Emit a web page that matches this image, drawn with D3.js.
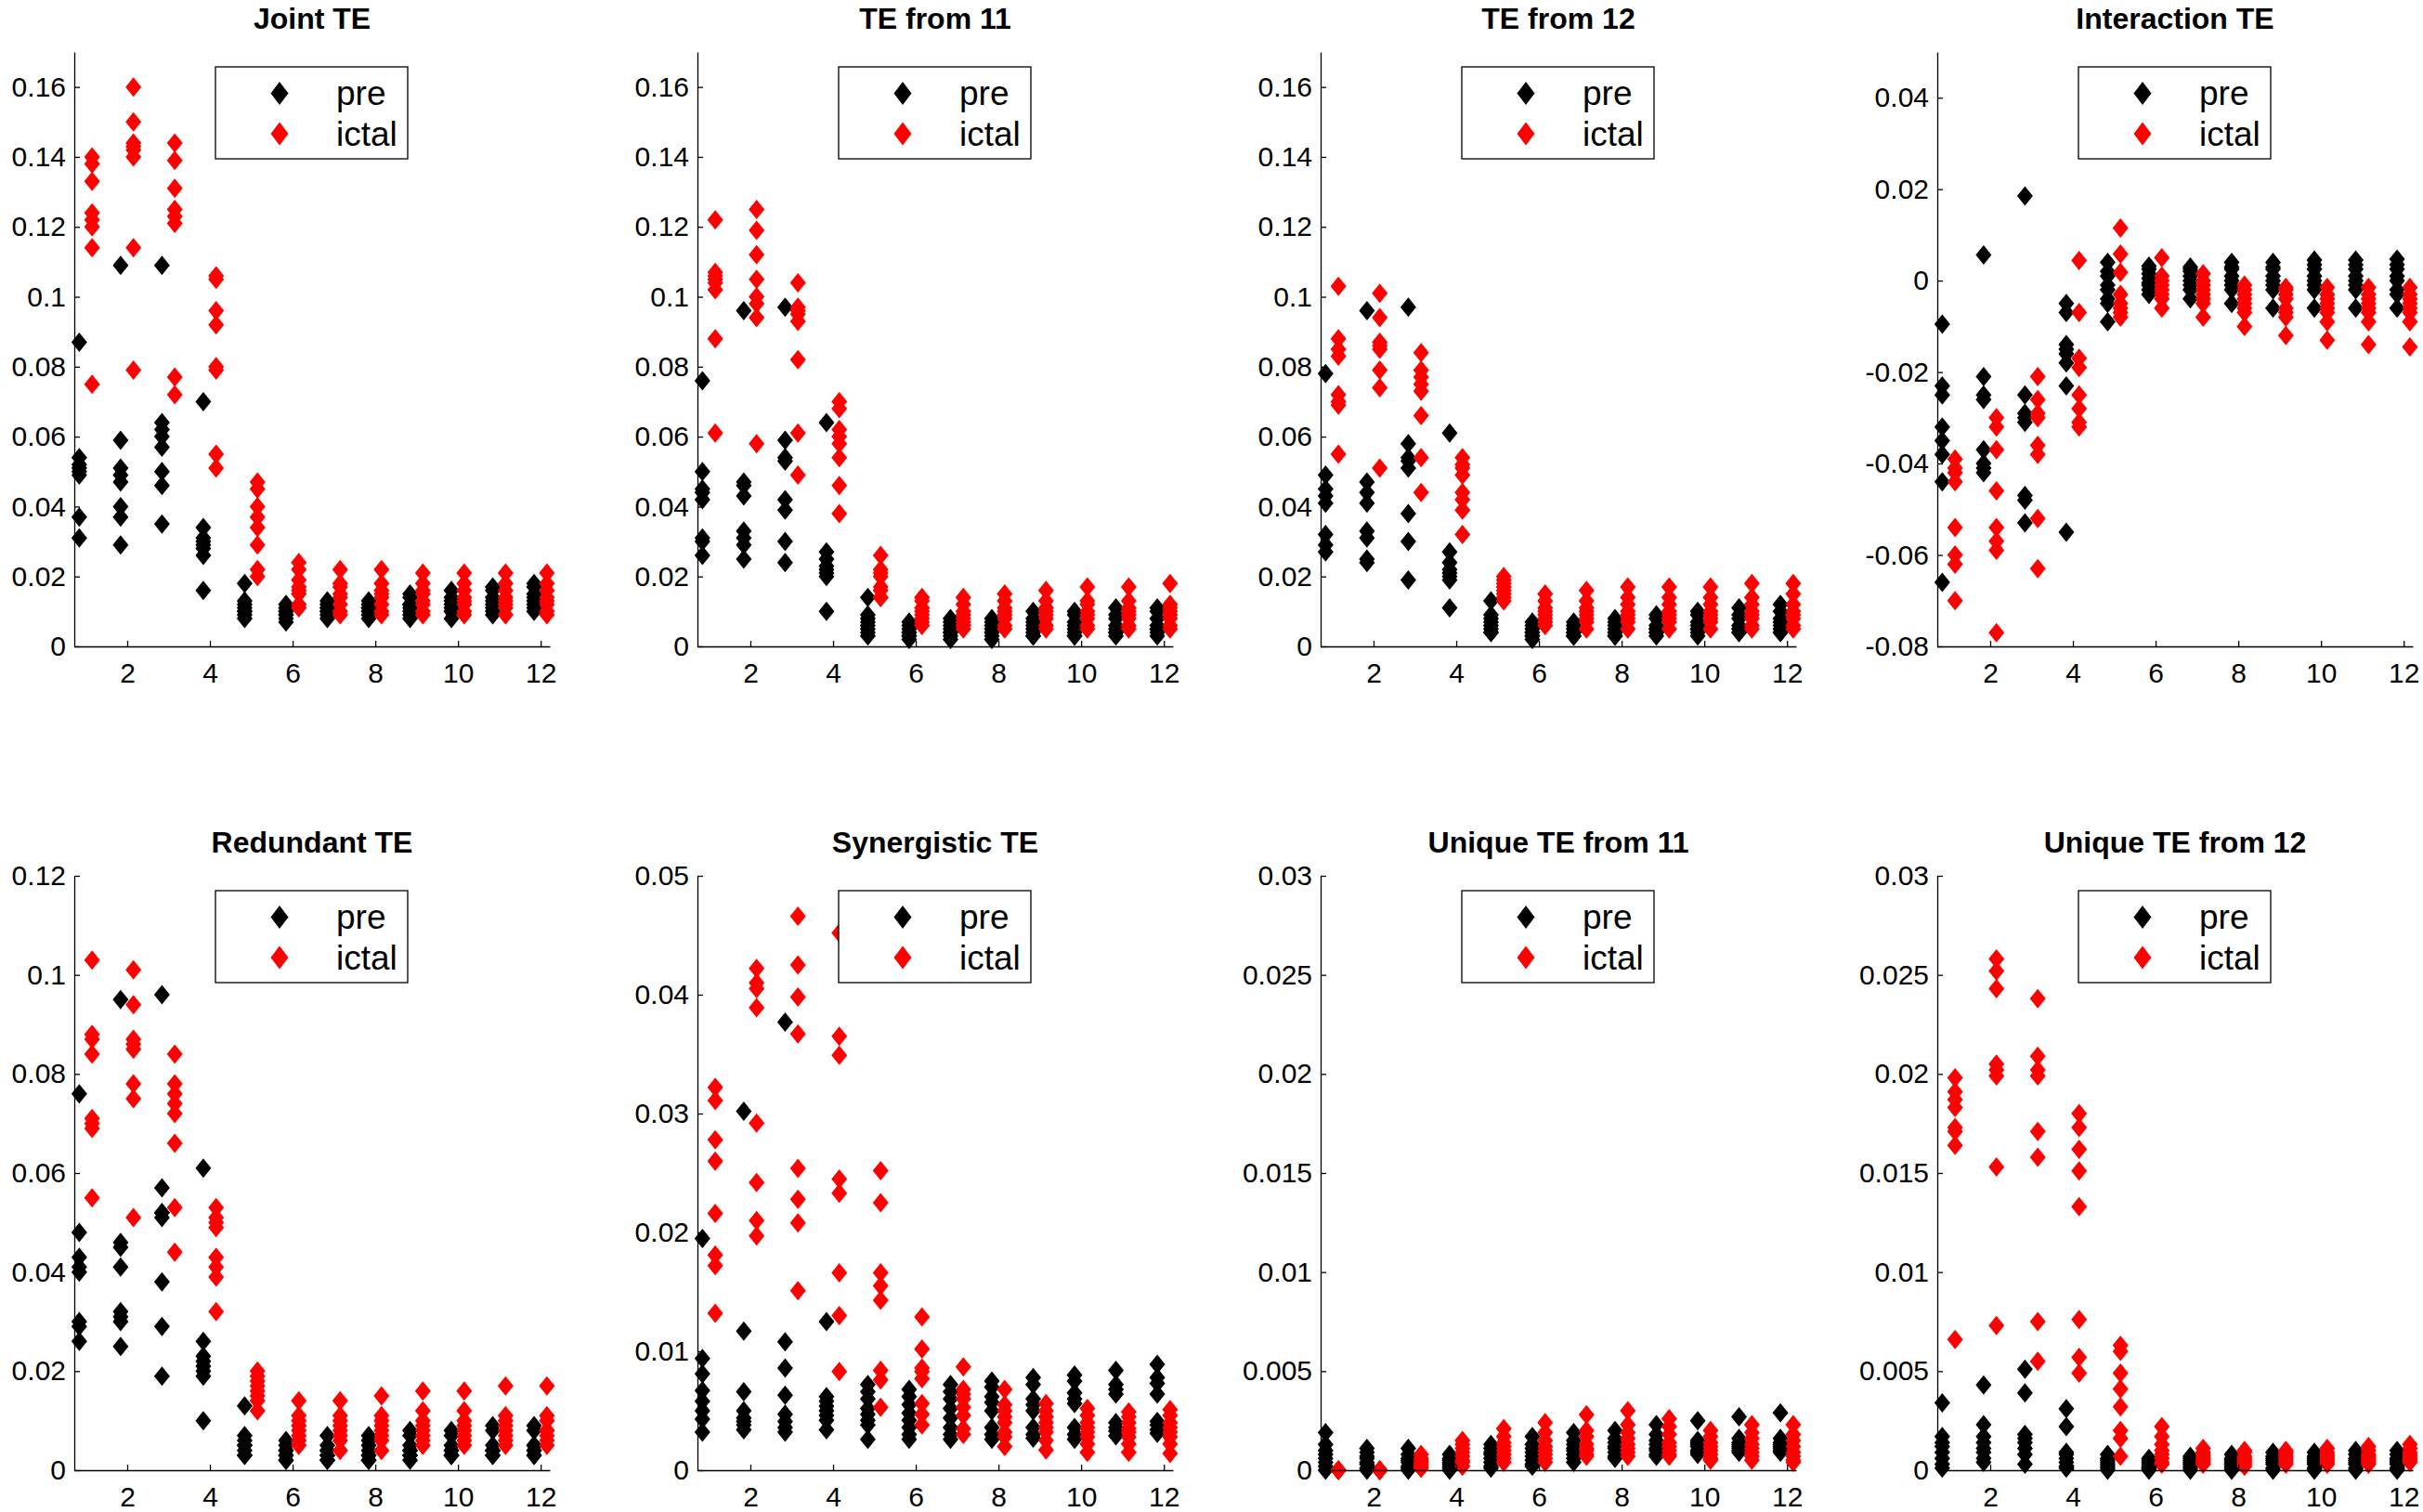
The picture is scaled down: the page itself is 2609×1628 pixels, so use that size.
<!DOCTYPE html>
<html>
<head>
<meta charset="utf-8">
<script src="https://cdn.jsdelivr.net/npm/d3@7"></script>
<style>
  body { margin: 0; background: #fff; }
  text { font-family: "Liberation Sans", Arial, sans-serif; fill: #000; }
  .title { font-weight: bold; font-size: 32px; }
  .tick text { font-size: 30px; }
  .legend-label { font-size: 37px; }
  .domain, .tick line { stroke: #000; stroke-width: 1.3; }
</style>
</head>
<body>
<svg id="chart" width="2609" height="1628"></svg>
<script>
// channel index on the x axis
const channels = [1, 2, 3, 4, 5, 6, 7, 8, 9, 10, 11, 12];

const titles = ['Joint TE', 'TE from 11', 'TE from 12', 'Interaction TE',
  'Redundant TE', 'Synergistic TE', 'Unique TE from 11', 'Unique TE from 12'];

const seriesNames = ['pre', 'ictal'];

const yDomains = [[0, 0.17], [0, 0.17], [0, 0.17], [-0.08, 0.05],
  [0, 0.12], [0, 0.05], [0, 0.03], [0, 0.03]];

const yTicks = [
  [0, 0.02, 0.04, 0.06, 0.08, 0.1, 0.12, 0.14, 0.16],
  [0, 0.02, 0.04, 0.06, 0.08, 0.1, 0.12, 0.14, 0.16],
  [0, 0.02, 0.04, 0.06, 0.08, 0.1, 0.12, 0.14, 0.16],
  [-0.08, -0.06, -0.04, -0.02, 0, 0.02, 0.04],
  [0, 0.02, 0.04, 0.06, 0.08, 0.1, 0.12],
  [0, 0.01, 0.02, 0.03, 0.04, 0.05],
  [0, 0.005, 0.01, 0.015, 0.02, 0.025, 0.03],
  [0, 0.005, 0.01, 0.015, 0.02, 0.025, 0.03]
];
const xTicks = [2, 4, 6, 8, 10, 12];

// one row per channel, 8 recordings each
const jointPre = [
  [0.087, 0.054, 0.052, 0.051, 0.050, 0.049, 0.037, 0.031],
  [0.109, 0.059, 0.051, 0.049, 0.047, 0.040, 0.037, 0.029],
  [0.109, 0.064, 0.062, 0.060, 0.057, 0.050, 0.046, 0.035],
  [0.070, 0.034, 0.031, 0.030, 0.029, 0.028, 0.026, 0.016],
  [0.018, 0.013, 0.012, 0.011, 0.010, 0.010, 0.009, 0.008],
  [0.012, 0.011, 0.010, 0.010, 0.009, 0.009, 0.008, 0.007],
  [0.013, 0.012, 0.011, 0.011, 0.010, 0.010, 0.009, 0.008],
  [0.013, 0.012, 0.011, 0.011, 0.010, 0.010, 0.009, 0.008],
  [0.015, 0.014, 0.012, 0.012, 0.011, 0.010, 0.009, 0.008],
  [0.016, 0.014, 0.013, 0.012, 0.011, 0.010, 0.010, 0.008],
  [0.017, 0.016, 0.014, 0.013, 0.012, 0.011, 0.010, 0.009],
  [0.018, 0.017, 0.015, 0.014, 0.013, 0.012, 0.011, 0.010]
];
const jointIctal = [
  [0.140, 0.138, 0.133, 0.124, 0.122, 0.120, 0.114, 0.075],
  [0.160, 0.150, 0.144, 0.143, 0.142, 0.140, 0.114, 0.079],
  [0.144, 0.139, 0.131, 0.125, 0.123, 0.121, 0.077, 0.072],
  [0.106, 0.105, 0.096, 0.092, 0.080, 0.079, 0.055, 0.051],
  [0.047, 0.045, 0.040, 0.037, 0.034, 0.029, 0.022, 0.020],
  [0.024, 0.022, 0.019, 0.017, 0.016, 0.015, 0.012, 0.011],
  [0.022, 0.018, 0.017, 0.015, 0.014, 0.012, 0.010, 0.009],
  [0.022, 0.018, 0.016, 0.015, 0.014, 0.012, 0.010, 0.009],
  [0.021, 0.018, 0.016, 0.015, 0.013, 0.012, 0.010, 0.009],
  [0.021, 0.018, 0.016, 0.014, 0.013, 0.012, 0.010, 0.009],
  [0.021, 0.018, 0.016, 0.014, 0.013, 0.012, 0.011, 0.009],
  [0.021, 0.018, 0.016, 0.014, 0.013, 0.012, 0.010, 0.009]
];

const te11Pre = [
  [0.076, 0.050, 0.045, 0.044, 0.042, 0.031, 0.030, 0.026],
  [0.096, 0.047, 0.046, 0.043, 0.033, 0.031, 0.029, 0.025],
  [0.097, 0.059, 0.054, 0.053, 0.042, 0.039, 0.030, 0.024],
  [0.064, 0.027, 0.025, 0.023, 0.022, 0.021, 0.020, 0.010],
  [0.014, 0.009, 0.008, 0.007, 0.006, 0.005, 0.004, 0.003],
  [0.007, 0.006, 0.005, 0.004, 0.004, 0.003, 0.003, 0.002],
  [0.008, 0.007, 0.006, 0.005, 0.004, 0.004, 0.003, 0.002],
  [0.008, 0.007, 0.006, 0.005, 0.004, 0.004, 0.003, 0.002],
  [0.010, 0.008, 0.007, 0.006, 0.005, 0.004, 0.003, 0.003],
  [0.010, 0.009, 0.007, 0.006, 0.005, 0.004, 0.003, 0.003],
  [0.011, 0.009, 0.008, 0.006, 0.005, 0.004, 0.004, 0.003],
  [0.011, 0.010, 0.008, 0.006, 0.005, 0.005, 0.004, 0.003]
];
const te11Ictal = [
  [0.122, 0.107, 0.106, 0.105, 0.104, 0.102, 0.088, 0.061],
  [0.125, 0.119, 0.112, 0.105, 0.100, 0.098, 0.094, 0.058],
  [0.104, 0.097, 0.096, 0.095, 0.093, 0.082, 0.061, 0.049],
  [0.070, 0.068, 0.062, 0.060, 0.058, 0.054, 0.046, 0.038],
  [0.026, 0.022, 0.021, 0.020, 0.017, 0.016, 0.014, 0.014],
  [0.014, 0.013, 0.011, 0.010, 0.009, 0.008, 0.007, 0.006],
  [0.014, 0.012, 0.010, 0.009, 0.008, 0.007, 0.006, 0.005],
  [0.015, 0.013, 0.011, 0.010, 0.009, 0.008, 0.006, 0.005],
  [0.016, 0.013, 0.011, 0.010, 0.009, 0.008, 0.006, 0.005],
  [0.017, 0.013, 0.012, 0.010, 0.009, 0.008, 0.006, 0.005],
  [0.017, 0.013, 0.011, 0.010, 0.009, 0.008, 0.006, 0.005],
  [0.018, 0.012, 0.011, 0.010, 0.009, 0.008, 0.006, 0.005]
];

const te12Pre = [
  [0.078, 0.049, 0.045, 0.043, 0.041, 0.032, 0.029, 0.027],
  [0.096, 0.047, 0.044, 0.041, 0.033, 0.031, 0.025, 0.024],
  [0.097, 0.058, 0.054, 0.053, 0.051, 0.038, 0.030, 0.019],
  [0.061, 0.027, 0.024, 0.022, 0.021, 0.020, 0.019, 0.011],
  [0.013, 0.009, 0.008, 0.007, 0.006, 0.005, 0.004, 0.004],
  [0.007, 0.006, 0.005, 0.004, 0.004, 0.003, 0.003, 0.002],
  [0.007, 0.006, 0.005, 0.004, 0.004, 0.003, 0.003, 0.003],
  [0.008, 0.007, 0.006, 0.005, 0.004, 0.004, 0.003, 0.003],
  [0.009, 0.008, 0.006, 0.005, 0.005, 0.004, 0.004, 0.003],
  [0.010, 0.009, 0.007, 0.006, 0.005, 0.005, 0.004, 0.003],
  [0.011, 0.009, 0.008, 0.006, 0.005, 0.005, 0.004, 0.004],
  [0.012, 0.010, 0.008, 0.007, 0.006, 0.005, 0.004, 0.004]
];
const te12Ictal = [
  [0.103, 0.088, 0.085, 0.083, 0.072, 0.070, 0.069, 0.055],
  [0.101, 0.094, 0.087, 0.086, 0.085, 0.079, 0.074, 0.051],
  [0.084, 0.079, 0.077, 0.075, 0.073, 0.066, 0.054, 0.044],
  [0.054, 0.052, 0.051, 0.049, 0.044, 0.042, 0.039, 0.032],
  [0.020, 0.019, 0.018, 0.017, 0.016, 0.015, 0.014, 0.013],
  [0.015, 0.013, 0.011, 0.010, 0.009, 0.008, 0.007, 0.006],
  [0.016, 0.013, 0.011, 0.010, 0.009, 0.008, 0.007, 0.005],
  [0.017, 0.014, 0.012, 0.010, 0.009, 0.008, 0.007, 0.005],
  [0.017, 0.014, 0.012, 0.010, 0.009, 0.008, 0.007, 0.005],
  [0.017, 0.014, 0.012, 0.010, 0.009, 0.008, 0.007, 0.005],
  [0.018, 0.014, 0.012, 0.010, 0.009, 0.008, 0.006, 0.005],
  [0.018, 0.015, 0.012, 0.010, 0.009, 0.008, 0.006, 0.005]
];

const interPre = [
  [-0.0095, -0.023, -0.025, -0.032, -0.035, -0.038, -0.044, -0.066],
  [0.0056, -0.021, -0.025, -0.026, -0.037, -0.040, -0.041, -0.042],
  [0.0185, -0.025, -0.029, -0.030, -0.031, -0.047, -0.048, -0.053],
  [-0.005, -0.007, -0.014, -0.015, -0.016, -0.018, -0.023, -0.055],
  [0.004, 0.002, 0.001, -0.001, -0.002, -0.004, -0.005, -0.009],
  [0.0032, 0.0025, 0.0015, 0.0005, -0.0005, -0.001, -0.002, -0.003],
  [0.003, 0.0025, 0.002, 0.001, 0.000, -0.001, -0.002, -0.004],
  [0.004, 0.003, 0.0025, 0.001, 0.000, -0.001, -0.002, -0.005],
  [0.004, 0.003, 0.0025, 0.001, 0.000, -0.001, -0.002, -0.006],
  [0.0045, 0.0035, 0.0025, 0.001, 0.000, -0.001, -0.002, -0.006],
  [0.0045, 0.0035, 0.0025, 0.001, 0.000, -0.001, -0.002, -0.006],
  [0.0047, 0.0035, 0.0025, 0.001, 0.000, -0.002, -0.003, -0.006]
];
const interIctal = [
  [-0.039, -0.041, -0.042, -0.044, -0.054, -0.060, -0.062, -0.070],
  [-0.030, -0.032, -0.037, -0.046, -0.054, -0.057, -0.059, -0.077],
  [-0.021, -0.026, -0.029, -0.030, -0.036, -0.038, -0.052, -0.063],
  [0.0044, -0.007, -0.017, -0.019, -0.025, -0.028, -0.031, -0.032],
  [0.0115, 0.0058, 0.0018, -0.003, -0.005, -0.006, -0.007, -0.008],
  [0.005, 0.001, 0.000, -0.001, -0.002, -0.003, -0.004, -0.006],
  [0.0015, 0.000, -0.001, -0.002, -0.003, -0.004, -0.005, -0.008],
  [-0.001, -0.002, -0.003, -0.004, -0.005, -0.006, -0.007, -0.010],
  [-0.0015, -0.002, -0.003, -0.004, -0.006, -0.007, -0.008, -0.012],
  [-0.0015, -0.003, -0.004, -0.005, -0.006, -0.007, -0.009, -0.013],
  [-0.0015, -0.003, -0.004, -0.005, -0.006, -0.007, -0.009, -0.014],
  [-0.0015, -0.003, -0.004, -0.005, -0.006, -0.007, -0.009, -0.0145]
];

const redPre = [
  [0.076, 0.048, 0.043, 0.041, 0.040, 0.030, 0.029, 0.026],
  [0.095, 0.046, 0.045, 0.041, 0.032, 0.031, 0.030, 0.025],
  [0.096, 0.057, 0.052, 0.052, 0.051, 0.038, 0.029, 0.019],
  [0.061, 0.026, 0.023, 0.022, 0.021, 0.020, 0.019, 0.010],
  [0.013, 0.007, 0.006, 0.005, 0.005, 0.004, 0.003, 0.003],
  [0.006, 0.005, 0.004, 0.004, 0.003, 0.003, 0.002, 0.002],
  [0.007, 0.005, 0.004, 0.004, 0.003, 0.003, 0.002, 0.002],
  [0.007, 0.006, 0.005, 0.004, 0.003, 0.003, 0.002, 0.002],
  [0.008, 0.007, 0.005, 0.004, 0.004, 0.003, 0.003, 0.002],
  [0.008, 0.007, 0.005, 0.004, 0.004, 0.003, 0.003, 0.003],
  [0.009, 0.008, 0.005, 0.004, 0.004, 0.004, 0.003, 0.003],
  [0.009, 0.008, 0.005, 0.005, 0.004, 0.004, 0.003, 0.003]
];
const redIctal = [
  [0.103, 0.088, 0.087, 0.084, 0.071, 0.069, 0.070, 0.055],
  [0.101, 0.094, 0.087, 0.086, 0.085, 0.078, 0.075, 0.051],
  [0.084, 0.078, 0.076, 0.074, 0.072, 0.066, 0.053, 0.044],
  [0.053, 0.051, 0.050, 0.049, 0.043, 0.041, 0.039, 0.032],
  [0.020, 0.019, 0.018, 0.017, 0.016, 0.015, 0.014, 0.012],
  [0.014, 0.011, 0.010, 0.009, 0.008, 0.007, 0.006, 0.005],
  [0.014, 0.011, 0.010, 0.009, 0.008, 0.007, 0.006, 0.004],
  [0.015, 0.011, 0.010, 0.009, 0.008, 0.007, 0.006, 0.004],
  [0.016, 0.012, 0.010, 0.009, 0.008, 0.007, 0.006, 0.005],
  [0.016, 0.012, 0.010, 0.009, 0.008, 0.007, 0.006, 0.005],
  [0.017, 0.011, 0.010, 0.009, 0.008, 0.007, 0.006, 0.005],
  [0.017, 0.011, 0.010, 0.008, 0.008, 0.007, 0.006, 0.005]
];

const synPre = [
  [0.0195, 0.0094, 0.0081, 0.0067, 0.0058, 0.0050, 0.0043, 0.0032],
  [0.0302, 0.0117, 0.0066, 0.0050, 0.0044, 0.0041, 0.0038, 0.0034],
  [0.0377, 0.0108, 0.0086, 0.0063, 0.0047, 0.0041, 0.0036, 0.0032],
  [0.0125, 0.0062, 0.0058, 0.0054, 0.0050, 0.0046, 0.0042, 0.0034],
  [0.0072, 0.0066, 0.0060, 0.0052, 0.0047, 0.0042, 0.0038, 0.0026],
  [0.0068, 0.0062, 0.0055, 0.0048, 0.0042, 0.0036, 0.0030, 0.0026],
  [0.0072, 0.0066, 0.0060, 0.0052, 0.0044, 0.0036, 0.0030, 0.0026],
  [0.0075, 0.0070, 0.0062, 0.0057, 0.0050, 0.0036, 0.0030, 0.0026],
  [0.0078, 0.0072, 0.0060, 0.0055, 0.0050, 0.0036, 0.0030, 0.0027],
  [0.0080, 0.0075, 0.0065, 0.0060, 0.0056, 0.0036, 0.0030, 0.0026],
  [0.0084, 0.0072, 0.0068, 0.0064, 0.0040, 0.0036, 0.0033, 0.0029],
  [0.0089, 0.0078, 0.0073, 0.0064, 0.0041, 0.0038, 0.0034, 0.0031]
];
const synIctal = [
  [0.0322, 0.0311, 0.0278, 0.0260, 0.0216, 0.0181, 0.0172, 0.0132],
  [0.0422, 0.0410, 0.0405, 0.0389, 0.0292, 0.0242, 0.0210, 0.0197],
  [0.0466, 0.0425, 0.0398, 0.0367, 0.0254, 0.0228, 0.0208, 0.0151],
  [0.0452, 0.0365, 0.0349, 0.0245, 0.0233, 0.0166, 0.0130, 0.0083],
  [0.0252, 0.0225, 0.0166, 0.0155, 0.0143, 0.0084, 0.0076, 0.0053],
  [0.0129, 0.0102, 0.0086, 0.0083, 0.0077, 0.0056, 0.0047, 0.0038],
  [0.0087, 0.0068, 0.0064, 0.0060, 0.0053, 0.0046, 0.0035, 0.0030],
  [0.0068, 0.0055, 0.0050, 0.0045, 0.0040, 0.0032, 0.0028, 0.0020],
  [0.0056, 0.0050, 0.0045, 0.0040, 0.0036, 0.0032, 0.0025, 0.0017],
  [0.0052, 0.0046, 0.0040, 0.0036, 0.0032, 0.0028, 0.0022, 0.0015],
  [0.0049, 0.0045, 0.0040, 0.0035, 0.0032, 0.0028, 0.0022, 0.0015],
  [0.0051, 0.0046, 0.0040, 0.0036, 0.0032, 0.0028, 0.0022, 0.0014]
];

const uni11Pre = [
  [0.0019, 0.0013, 0.0010, 0.0008, 0.0006, 0.0004, 0.0002, 0.0000],
  [0.0011, 0.0009, 0.0007, 0.0006, 0.0004, 0.0003, 0.0001, 0.0000],
  [0.0011, 0.0008, 0.0006, 0.0005, 0.0004, 0.0002, 0.0001, 0.0000],
  [0.0008, 0.0006, 0.0005, 0.0004, 0.0003, 0.0002, 0.0001, 0.0000],
  [0.0013, 0.0011, 0.0009, 0.0008, 0.0006, 0.0004, 0.0002, 0.0001],
  [0.0017, 0.0013, 0.0011, 0.0009, 0.0007, 0.0005, 0.0003, 0.0002],
  [0.0019, 0.0015, 0.0013, 0.0011, 0.0010, 0.0008, 0.0006, 0.0004],
  [0.0020, 0.0016, 0.0014, 0.0012, 0.0011, 0.0009, 0.0007, 0.0006],
  [0.0023, 0.0018, 0.0015, 0.0013, 0.0011, 0.0010, 0.0008, 0.0007],
  [0.0025, 0.0015, 0.0014, 0.0013, 0.0012, 0.0010, 0.0009, 0.0008],
  [0.0027, 0.0016, 0.0014, 0.0013, 0.0012, 0.0011, 0.0010, 0.0009],
  [0.0029, 0.0016, 0.0014, 0.0013, 0.0012, 0.0011, 0.0010, 0.0009]
];
const uni11Ictal = [
  [0.0000, 0.0000, 0.0000, 0.0000, 0.0000, 0.0000, 0.0000, 0.0000],
  [0.0000, 0.0000, 0.0000, 0.0000, 0.0000, 0.0000, 0.0000, 0.0000],
  [0.0008, 0.0006, 0.0005, 0.0004, 0.0003, 0.0002, 0.0001, 0.0001],
  [0.0015, 0.0013, 0.0011, 0.0009, 0.0007, 0.0005, 0.0004, 0.0002],
  [0.0021, 0.0017, 0.0014, 0.0012, 0.0010, 0.0008, 0.0006, 0.0004],
  [0.0024, 0.0019, 0.0015, 0.0012, 0.0010, 0.0008, 0.0006, 0.0004],
  [0.0028, 0.0020, 0.0017, 0.0013, 0.0011, 0.0010, 0.0008, 0.0007],
  [0.0030, 0.0023, 0.0019, 0.0016, 0.0013, 0.0011, 0.0009, 0.0007],
  [0.0026, 0.0022, 0.0018, 0.0014, 0.0012, 0.0010, 0.0008, 0.0007],
  [0.0020, 0.0017, 0.0014, 0.0012, 0.0010, 0.0008, 0.0006, 0.0005],
  [0.0023, 0.0019, 0.0016, 0.0013, 0.0011, 0.0009, 0.0007, 0.0005],
  [0.0023, 0.0018, 0.0015, 0.0012, 0.0009, 0.0007, 0.0005, 0.0004]
];

const uni12Pre = [
  [0.0034, 0.0017, 0.0014, 0.0012, 0.0009, 0.0006, 0.0003, 0.0001],
  [0.0043, 0.0023, 0.0017, 0.0014, 0.0011, 0.0009, 0.0006, 0.0004],
  [0.0051, 0.0039, 0.0018, 0.0016, 0.0014, 0.0011, 0.0008, 0.0003],
  [0.0031, 0.0022, 0.0009, 0.0008, 0.0006, 0.0004, 0.0002, 0.0001],
  [0.0008, 0.0006, 0.0005, 0.0004, 0.0003, 0.0002, 0.0001, 0.0000],
  [0.0006, 0.0005, 0.0004, 0.0003, 0.0002, 0.0001, 0.0001, 0.0000],
  [0.0007, 0.0006, 0.0005, 0.0004, 0.0003, 0.0002, 0.0001, 0.0000],
  [0.0008, 0.0006, 0.0005, 0.0004, 0.0003, 0.0002, 0.0001, 0.0000],
  [0.0009, 0.0007, 0.0006, 0.0005, 0.0004, 0.0003, 0.0001, 0.0000],
  [0.0009, 0.0007, 0.0006, 0.0005, 0.0004, 0.0003, 0.0001, 0.0000],
  [0.0010, 0.0008, 0.0006, 0.0005, 0.0004, 0.0003, 0.0001, 0.0000],
  [0.0010, 0.0008, 0.0006, 0.0005, 0.0004, 0.0003, 0.0001, 0.0000]
];
const uni12Ictal = [
  [0.0198, 0.0191, 0.0187, 0.0183, 0.0173, 0.0171, 0.0164, 0.0066],
  [0.0258, 0.0252, 0.0243, 0.0205, 0.0202, 0.0199, 0.0153, 0.0073],
  [0.0238, 0.0209, 0.0202, 0.0199, 0.0171, 0.0158, 0.0075, 0.0055],
  [0.0180, 0.0173, 0.0162, 0.0151, 0.0133, 0.0076, 0.0057, 0.0049],
  [0.0063, 0.0060, 0.0049, 0.0041, 0.0032, 0.0020, 0.0016, 0.0007],
  [0.0022, 0.0017, 0.0013, 0.0010, 0.0008, 0.0006, 0.0004, 0.0003],
  [0.0011, 0.0009, 0.0008, 0.0007, 0.0006, 0.0005, 0.0004, 0.0003],
  [0.0010, 0.0009, 0.0007, 0.0006, 0.0005, 0.0004, 0.0003, 0.0002],
  [0.0010, 0.0009, 0.0008, 0.0007, 0.0006, 0.0005, 0.0004, 0.0003],
  [0.0011, 0.0009, 0.0008, 0.0007, 0.0006, 0.0005, 0.0004, 0.0003],
  [0.0012, 0.0010, 0.0008, 0.0007, 0.0006, 0.0005, 0.0004, 0.0003],
  [0.0013, 0.0011, 0.0009, 0.0008, 0.0007, 0.0006, 0.0005, 0.0004]
];

const preSeries = [jointPre, te11Pre, te12Pre, interPre, redPre, synPre, uni11Pre, uni12Pre];
const ictalSeries = [jointIctal, te11Ictal, te12Ictal, interIctal, redIctal, synIctal, uni11Ictal, uni12Ictal];

const colors = ['#000000', '#ff0000'];
const offsets = [-0.16, 0.15];

const panelW = 512;
const panelH = 640;
const colX = [80, 751, 1422, 2086];
const rowY = [56, 943];

const diamond = (w, h) => `M0,${-h}L${w},0L0,${h}L${-w},0Z`;
const fmt = d => String(+d.toFixed(4));

const svg = d3.select('#chart');

titles.forEach((title, i) => {
  const g = svg.append('g')
    .attr('transform', `translate(${colX[i % 4]},${rowY[Math.floor(i / 4)]})`);

  const xScale = d3.scaleLinear().domain([0.72, 12.22]).range([0, panelW]);
  const yScale = d3.scaleLinear().domain(yDomains[i]).range([panelH, 0]);

  const xAxis = d3.axisBottom(xScale)
    .tickValues(xTicks)
    .tickFormat(fmt)
    .tickSizeInner(-6)
    .tickSizeOuter(0)
    .tickPadding(18);

  const yAxis = d3.axisLeft(yScale)
    .tickValues(yTicks[i])
    .tickFormat(fmt)
    .tickSizeInner(-6)
    .tickSizeOuter(0)
    .tickPadding(9);

  [preSeries[i], ictalSeries[i]].forEach((series, s) => {
    const pts = [];
    series.forEach((vals, k) => vals.forEach(v => pts.push({ x: channels[k] + offsets[s], y: v })));
    g.append('g').selectAll('path').data(pts)
      .enter().append('path')
      .attr('d', diamond(8.5, 10.5))
      .attr('transform', d => `translate(${xScale(d.x)},${yScale(d.y)})`)
      .attr('fill', colors[s]);
  });

  g.append('g')
    .attr('transform', `translate(0,${panelH})`)
    .call(xAxis);
  g.append('g').call(yAxis);

  g.append('text')
    .attr('class', 'title')
    .attr('x', panelW / 2)
    .attr('y', -25)
    .attr('text-anchor', 'middle')
    .text(title);

  // legend box in the upper middle of each panel
  const lg = g.append('g').attr('transform', 'translate(152,16)');
  lg.append('rect')
    .attr('width', 207)
    .attr('height', 99)
    .attr('fill', '#fff')
    .attr('stroke', '#000')
    .attr('stroke-width', 1.3);
  seriesNames.forEach((name, s) => {
    lg.append('path')
      .attr('d', diamond(9.5, 12.5))
      .attr('transform', `translate(69,${28.5 + s * 43.5})`)
      .attr('fill', colors[s]);
    lg.append('text')
      .attr('class', 'legend-label')
      .attr('x', 130)
      .attr('y', 41 + s * 43.5)
      .text(name);
  });
});
</script>
</body>
</html>
